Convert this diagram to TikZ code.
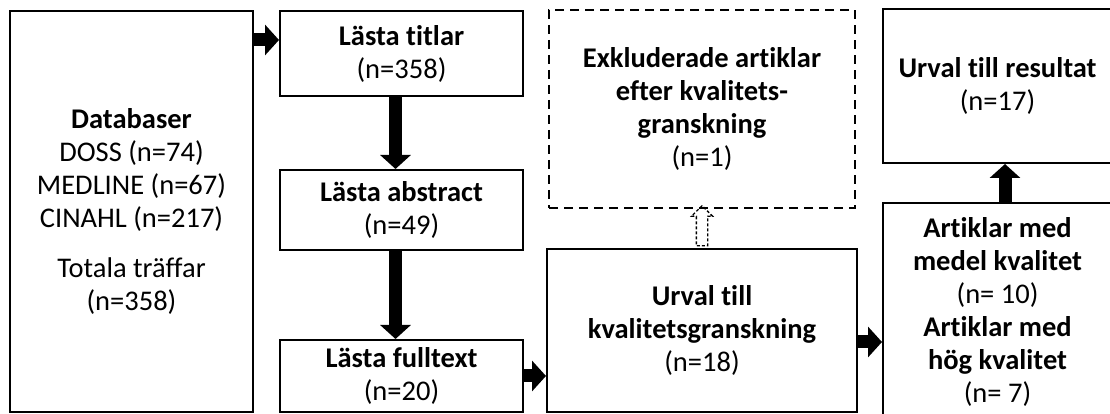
\documentclass[tikz,border=0pt]{standalone}
\usepackage{fontspec}
\setmainfont{Carlito}[Ligatures=NoCommon, RawFeature={-liga;-clig;-dlig}]
\usetikzlibrary{arrows.meta,positioning,calc,shapes.arrows}

\begin{document}
\begin{tikzpicture}[x=1pt,y=1pt]
  \tikzstyle{box}=[draw=black, text=black, fill=white, line width=2pt, align=center, inner sep=0pt, font=\fontsize{28.5}{33}\selectfont]
  \tikzstyle{dashbox}=[box, dash pattern=on 9pt off 6pt]
  \tikzstyle{flow}=[draw=black, line width=13pt, -{Triangle[width=30pt,length=14pt]}]
  \tikzstyle{hollow}=[draw=black, line width=1.3pt, dash pattern=on 3pt off 2pt, single arrow, single arrow head extend=5pt, inner sep=5pt, rotate=90, minimum height=40pt]
  \def\colw{243pt}
  \def\rcolw{229pt}

  \useasboundingbox (0,0) rectangle (1110,414);
  \coordinate (origin) at (0,0);
  \node [box, minimum width=\colw, minimum height=401pt] (db) at ($(origin)+(131.5,202.5)$)
    {\textbf{Databaser}\\ DOSS (n=74)\\ MEDLINE (n=67)\\ CINAHL (n=217)\\[17pt] Totala träffar\\ (n=358)};
  \node [box, minimum width=\colw, minimum height=85pt] (titlar) at ($(db)+(270,158)$)
    {\textbf{Lästa titlar}\\ (n=358)};
  \node [box, minimum width=\colw, minimum height=80pt] (abstract) at ($(titlar)+(0,-156.5)$)
    {\textbf{Lästa abstract}\\ (n=49)};
  \node [box, minimum width=\colw, minimum height=72pt] (fulltext) at ($(abstract)+(0,-166)$)
    {\textbf{Lästa fulltext}\\ (n=20)};
  \node [dashbox, minimum width=306pt, minimum height=198pt] (excl) at ($(origin)+(702,305)$)
    {\textbf{Exkluderade artiklar}\\ \textbf{efter kvalitets-}\\ \textbf{granskning}\\ (n=1)};
  \node [box, minimum width=310pt, minimum height=163pt] (kval) at ($(origin)+(702,83.5)$)
    {\textbf{Urval till}\\ \textbf{kvalitetsgranskning}\\ (n=18)};
  \node [box, minimum width=\rcolw, minimum height=154pt] (result) at ($(origin)+(997.5,328)$)
    {\textbf{Urval till resultat}\\ (n=17)};
  \node [box, minimum width=\rcolw, minimum height=217pt] (artiklar) at ($(origin)+(997.5,102.5)$)
    {\textbf{Artiklar med}\\ \textbf{medel kvalitet}\\ (n= 10)\\ \textbf{Artiklar med}\\ \textbf{hög kvalitet}\\ (n= 7)};

  \coordinate (d1) at ($(titlar.west)+(0,13.5)$);
  \coordinate (k1) at ($(kval.east)+(0,-11.5)$);
  \draw [flow] (db.east |- d1) -- (d1);
  \draw [flow] ($(titlar.south)+(-6,0)$) -- ($(abstract.north)+(-6,0)$);
  \draw [flow] ($(abstract.south)+(-6,0)$) -- ($(fulltext.north)+(-6,0)$);
  \draw [flow] (fulltext.east) -- (kval.west |- fulltext.east);
  \draw [flow] (k1) -- (k1 -| artiklar.west);
  \draw [flow] ($(artiklar.north)+(7.5,0)$) -- ($(result.south)+(7.5,0)$);
  \node [hollow] (exclarrow) at ($(kval.north)!0.5!(excl.south)$) {};
\end{tikzpicture}
\end{document}
